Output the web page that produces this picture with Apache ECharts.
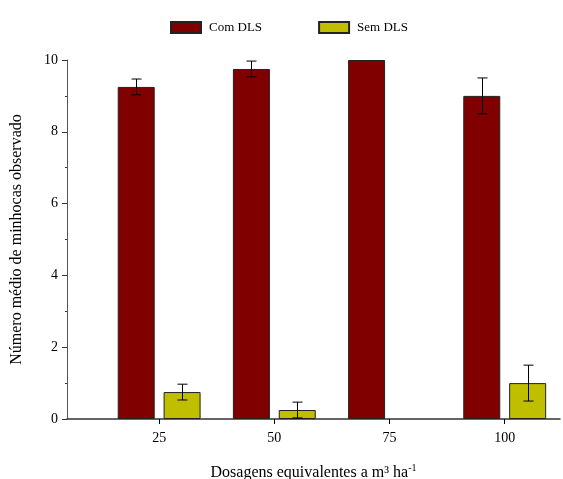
<!DOCTYPE html>
<html>
<head>
<meta charset="utf-8">
<script src="https://cdn.jsdelivr.net/npm/echarts@6/dist/echarts.min.js"></script>
<style>
  html, body { margin: 0; padding: 0; background: #fff; }
  #chart { width: 563px; height: 479px; }
</style>
</head>
<body>
<div id="chart"></div>
<script>
// dosages (m³ ha-1)
const doses = [25, 50, 75, 100]
const comDls = [9.25, 9.75, 10, 9.0]
const comDlsErr = [0.22, 0.22, 0, 0.5]
const semDls = [0.75, 0.25, 0, 1.0]
const semDlsErr = [0.22, 0.22, 0, 0.5]
const yTicks = [0, 2, 4, 6, 8, 10]

const chart = echarts.init(document.getElementById('chart'))
const serif = 'Liberation Serif'
const barShift = 23

const barData = (vals) =>
  doses.map((d, i) => ({
    value: [d, vals[i]],
    // empty bars draw nothing in the original
    itemStyle: vals[i] === 0 ? { borderWidth: 0 } : undefined,
  }))

const errSeries = (vals, errs, shift) => ({
  type: 'custom',
  z: 5,
  data: doses.map((d, i) => [d, vals[i], errs[i]]),
  renderItem: (params, api) => {
    const x = api.value(0)
    const v = api.value(1)
    const e = api.value(2)
    if (!e) return null
    const top = api.coord([x, v + e])
    const bot = api.coord([x, v - e])
    const cx = Math.round(top[0] + shift) + 0.5
    const style = { stroke: '#000', lineWidth: 1 }
    return {
      type: 'group',
      children: [
        { type: 'line', shape: { x1: cx, y1: top[1], x2: cx, y2: bot[1] }, style },
        { type: 'line', shape: { x1: cx - 5, y1: top[1], x2: cx + 5, y2: top[1] }, style },
        { type: 'line', shape: { x1: cx - 5, y1: bot[1], x2: cx + 5, y2: bot[1] }, style },
      ],
    }
  },
})

chart.setOption({
  animation: false,
  textStyle: { fontFamily: serif, color: '#000' },
  legend: {
    left: 165,
    top: 16,
    icon: 'rect',
    itemWidth: 30,
    itemHeight: 11,
    itemGap: 56,
    textStyle: { fontFamily: serif, fontSize: 13, color: '#000', padding: [0, 0, 0, 3] },
    data: ['Com DLS', 'Sem DLS'],
  },
  grid: { left: 67, right: 3, top: 60, bottom: 60, outerBoundsMode: 'none', containLabel: false },
  xAxis: {
    type: 'value',
    min: 5,
    max: 112,
    splitLine: { show: false },
    axisLine: { lineStyle: { color: '#333', width: 1.5 } },
    axisTick: { customValues: doses, length: 5, lineStyle: { color: '#000' } },
    axisLabel: { customValues: doses, fontFamily: serif, fontSize: 14, color: '#000', margin: 12 },
    name: '{n|Dosagens equivalentes a m³ ha}{s|-1}',
    nameLocation: 'middle',
    nameGap: 44,
    nameTextStyle: {
      rich: {
        n: { fontFamily: serif, fontSize: 16, color: '#000' },
        s: { fontFamily: serif, fontSize: 10, color: '#000', verticalAlign: 'top', padding: [0, 0, 9, 0] },
      },
    },
  },
  yAxis: {
    type: 'value',
    min: 0,
    max: 10,
    interval: 2,
    splitLine: { show: false },
    axisLine: { show: true, lineStyle: { color: '#555', width: 1 } },
    axisTick: { show: true, length: 5, lineStyle: { color: '#333' } },
    minorTick: { show: true, splitNumber: 2, length: 2, lineStyle: { color: '#333' } },
    axisLabel: {
      fontFamily: serif, fontSize: 14, color: '#000', margin: 9,
      formatter: (v) => (yTicks.includes(v) ? String(v) : ''),
    },
    name: 'Número médio de minhocas observado',
    nameLocation: 'middle',
    nameGap: 42,
    nameTextStyle: { fontFamily: serif, fontSize: 16, color: '#000' },
  },
  series: [
    {
      name: 'Com DLS',
      type: 'bar',
      barWidth: 37,
      barGap: '24%',
      data: barData(comDls),
      itemStyle: { color: '#800000', borderColor: '#222', borderWidth: 1 },
    },
    {
      name: 'Sem DLS',
      type: 'bar',
      barWidth: 37,
      barGap: '24%',
      data: barData(semDls),
      itemStyle: { color: '#bfbf00', borderColor: '#222', borderWidth: 1 },
    },
    errSeries(comDls, comDlsErr, -barShift),
    errSeries(semDls, semDlsErr, barShift),
  ],
})
</script>
</body>
</html>
